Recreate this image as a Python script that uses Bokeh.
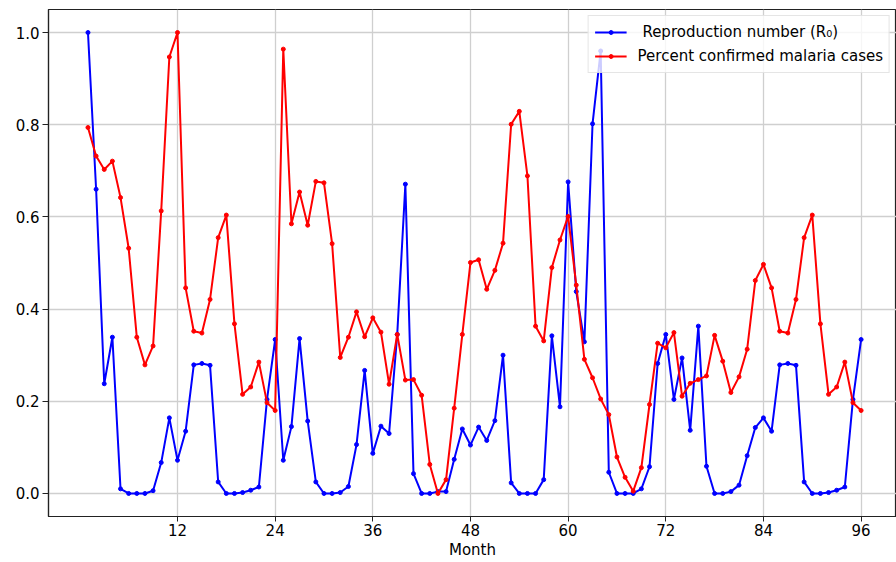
from bokeh.plotting import figure
from bokeh.models import Legend, LegendItem, FixedTicker, Range1d
from bokeh.embed import file_html
from bokeh.resources import INLINE

months = list(range(1, 97))

r0 = [1.0, 0.660, 0.238, 0.339, 0.010, 0.0, 0.0, 0.0, 0.006, 0.067, 0.164, 0.072,
      0.135, 0.279, 0.282, 0.278, 0.025, 0.0, 0.0, 0.002, 0.007, 0.014, 0.204, 0.334,
      0.072, 0.145, 0.336, 0.157, 0.025, 0.0, 0.0, 0.002, 0.015, 0.106, 0.267, 0.087,
      0.146, 0.130, 0.345, 0.671, 0.043, 0.0, 0.0, 0.004, 0.004, 0.074, 0.140, 0.105,
      0.144, 0.115, 0.158, 0.300, 0.023, 0.0, 0.0, 0.0, 0.030, 0.342, 0.188, 0.676,
      0.438, 0.329, 0.802, 0.960, 0.046, 0.0, 0.0, 0.0, 0.010, 0.058, 0.282, 0.345,
      0.204, 0.294, 0.137, 0.363, 0.059, 0.0, 0.0, 0.004, 0.018, 0.082, 0.143, 0.164,
      0.135, 0.279, 0.282, 0.278, 0.025, 0.0, 0.0, 0.002, 0.007, 0.014, 0.204, 0.334]

pct = [0.794, 0.732, 0.703, 0.721, 0.642, 0.532, 0.339, 0.279, 0.320, 0.613, 0.947, 1.0,
       0.446, 0.352, 0.348, 0.421, 0.555, 0.604, 0.368, 0.215, 0.231, 0.285, 0.197, 0.180,
       0.964, 0.585, 0.654, 0.582, 0.677, 0.674, 0.542, 0.295, 0.339, 0.394, 0.340, 0.381,
       0.350, 0.237, 0.345, 0.246, 0.247, 0.213, 0.063, 0.0, 0.030, 0.185, 0.345, 0.501,
       0.507, 0.443, 0.484, 0.543, 0.801, 0.829, 0.689, 0.363, 0.331, 0.490, 0.550, 0.601,
       0.452, 0.291, 0.251, 0.205, 0.171, 0.079, 0.035, 0.005, 0.056, 0.193, 0.326, 0.316,
       0.349, 0.211, 0.239, 0.247, 0.255, 0.343, 0.287, 0.219, 0.253, 0.313, 0.462, 0.497,
       0.446, 0.352, 0.348, 0.421, 0.555, 0.604, 0.368, 0.215, 0.231, 0.285, 0.197, 0.180]

x_ticks = [12, 24, 36, 48, 60, 72, 84, 96]
y_ticks = [0.0, 0.2, 0.4, 0.6, 0.8, 1.0]
label_r0 = " Reproduction number (R\u2080)"
label_pct = "Percent confirmed malaria cases"

FONT = "DejaVu Sans"
FS = "15px"

p = figure(width=896, height=562, output_backend="svg", toolbar_location=None,
           x_range=Range1d(-3.85, 100.35), y_range=Range1d(-0.05, 1.05),
           min_border_left=48, min_border_right=0, min_border_top=9, min_border_bottom=46)

p.background_fill_color = "white"
p.border_fill_color = "white"
p.outline_line_color = "#222222"
p.outline_line_width = 1.2

for ax in (p.xaxis[0], p.yaxis[0]):
    ax.axis_line_color = "#222222"
    ax.axis_line_width = 1.2
    ax.major_tick_line_color = "#222222"
    ax.major_tick_out = 5
    ax.major_tick_in = 0
    ax.minor_tick_line_color = None
    ax.major_label_text_font = FONT
    ax.major_label_text_font_size = FS
    ax.major_label_text_color = "black"
    ax.major_label_standoff = 2

p.yaxis.major_tick_out = 6
p.yaxis.major_label_standoff = 3

p.xaxis.ticker = FixedTicker(ticks=x_ticks)
p.yaxis.ticker = FixedTicker(ticks=y_ticks)
p.yaxis.major_label_overrides = {t: f"{t:.1f}" for t in y_ticks}
p.xaxis.axis_label = "Month"
p.xaxis.axis_label_text_font = FONT
p.xaxis.axis_label_text_font_size = FS
p.xaxis.axis_label_text_font_style = "normal"
p.xaxis.axis_label_text_color = "black"
p.xaxis.axis_label_standoff = 2

p.xgrid.ticker = FixedTicker(ticks=x_ticks)
p.ygrid.ticker = FixedTicker(ticks=y_ticks)
for g in (p.xgrid[0], p.ygrid[0]):
    g.grid_line_color = "#cfcfcf"
    g.grid_line_width = 1.3

lb = p.line(months, r0, line_color="blue", line_width=2)
sb = p.scatter(months, r0, size=4, color="blue")
lr = p.line(months, pct, line_color="red", line_width=2)
sr = p.scatter(months, pct, size=4, color="red")

legend = Legend(items=[LegendItem(label=label_r0, renderers=[lb, sb]),
                       LegendItem(label=label_pct, renderers=[lr, sr])],
                location="top_right")
legend.margin = 6
legend.padding = 6
legend.spacing = 4
legend.glyph_width = 32
legend.glyph_height = 10
legend.label_height = 20
legend.label_standoff = 11
legend.label_text_font = FONT
legend.label_text_font_size = FS
legend.label_text_color = "black"
legend.label_text_baseline = "middle"
legend.background_fill_alpha = 0.8
legend.border_line_color = "#cccccc"
legend.border_line_width = 1
p.add_layout(legend)

open("out.html", "w").write(file_html(p, INLINE))
